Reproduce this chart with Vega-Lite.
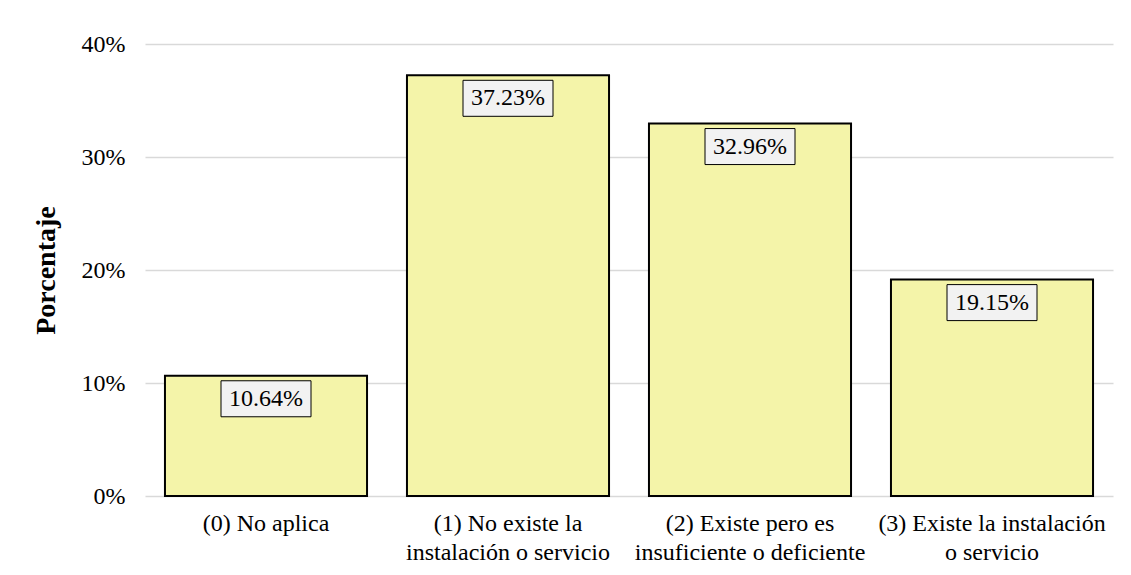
{
  "$schema": "https://vega.github.io/schema/vega-lite/v6.json",
  "autosize": "none",
  "width": 968,
  "height": 452,
  "padding": {"left": 145, "top": 44, "right": 18, "bottom": 79},
  "background": "white",
  "config": {
    "font": "Liberation Serif",
    "view": {"stroke": null}
  },
  "data": {
    "values": [
      {"categoria": "(0) No aplica", "porcentaje": 0.1064},
      {"categoria": "(1) No existe la instalación o servicio", "porcentaje": 0.3723},
      {"categoria": "(2) Existe pero es insuficiente o deficiente", "porcentaje": 0.3296},
      {"categoria": "(3) Existe la instalación o servicio", "porcentaje": 0.1915}
    ]
  },
  "encoding": {
    "x": {
      "field": "categoria",
      "type": "nominal",
      "sort": null,
      "scale": {"paddingInner": 0.165, "paddingOuter": 0.0825},
      "axis": {
        "title": null,
        "labelAngle": 0,
        "labelFont": "Liberation Serif",
        "labelFontSize": 24,
        "labelColor": "#000000",
        "labelLineHeight": 29,
        "labelPadding": 15,
        "labelBaseline": "top",
        "labelLimit": 0,
        "labelOverlap": false,
        "ticks": false,
        "domain": false,
        "labelExpr": "datum.value == '(1) No existe la instalación o servicio' ? ['(1) No existe la', 'instalación o servicio'] : datum.value == '(2) Existe pero es insuficiente o deficiente' ? ['(2) Existe pero es', 'insuficiente o deficiente'] : datum.value == '(3) Existe la instalación o servicio' ? ['(3) Existe la instalación', 'o servicio'] : datum.value"
      }
    },
    "y": {
      "field": "porcentaje",
      "type": "quantitative",
      "scale": {"domain": [0, 0.4], "nice": false},
      "axis": {
        "title": "Porcentaje",
        "titleFont": "Liberation Serif",
        "titleFontSize": 28,
        "titleFontWeight": "bold",
        "titleColor": "#000000",
        "titleX": -99,
        "titleY": 226,
        "titleAngle": -90,
        "titleAlign": "center",
        "titleBaseline": "middle",
        "format": ".0%",
        "values": [0, 0.1, 0.2, 0.3, 0.4],
        "labelOverlap": false,
        "labelFont": "Liberation Serif",
        "labelFontSize": 24,
        "labelColor": "#000000",
        "labelPadding": 20,
        "ticks": false,
        "domain": false,
        "grid": true,
        "gridColor": "#d9d9d9",
        "gridWidth": 1.5
      }
    }
  },
  "layer": [
    {
      "mark": {"type": "bar", "fill": "#F4F4A9", "stroke": "#000000", "strokeWidth": 2}
    },
    {
      "mark": {
        "type": "point",
        "shape": "M-1,-0.4H1V0.4H-1Z",
        "size": 8100,
        "filled": true,
        "fill": "#F2F2F2",
        "stroke": "#000000",
        "strokeWidth": 1,
        "opacity": 1,
        "yOffset": 23
      }
    },
    {
      "mark": {
        "type": "text",
        "font": "Liberation Serif",
        "fontSize": 24,
        "color": "#000000",
        "baseline": "middle",
        "align": "center",
        "dy": 23
      },
      "encoding": {
        "text": {"field": "porcentaje", "type": "quantitative", "format": ".2%"}
      }
    }
  ]
}
